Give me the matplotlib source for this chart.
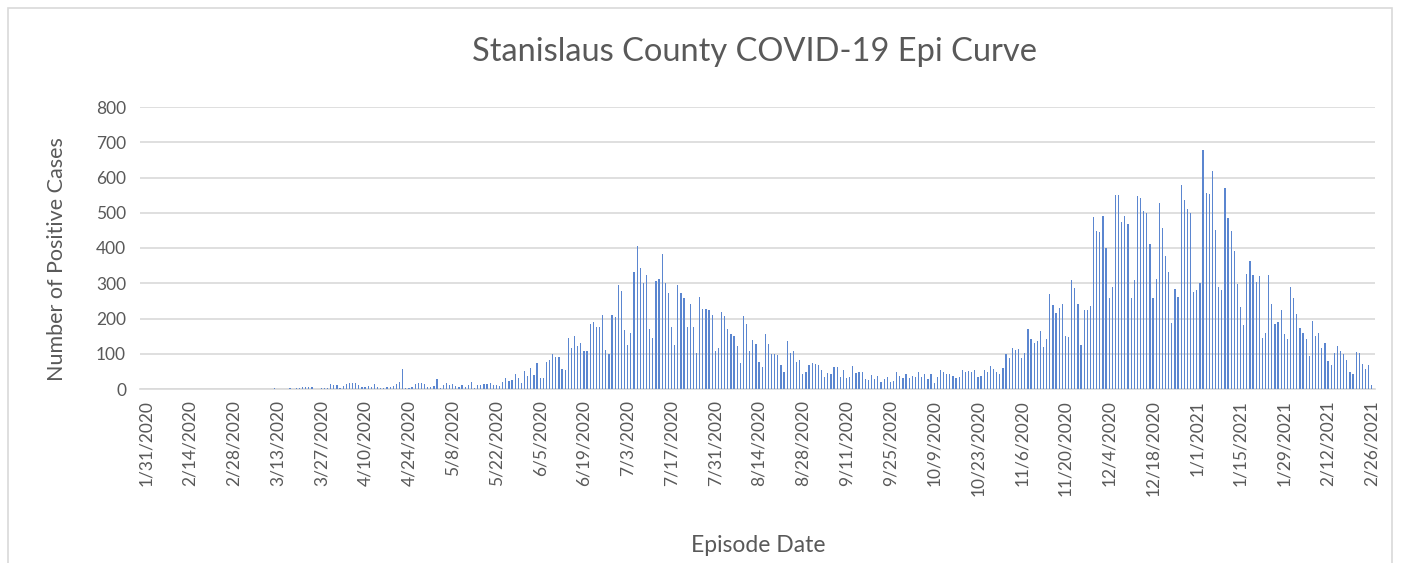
import matplotlib
matplotlib.use("Agg")
import matplotlib.pyplot as plt
from matplotlib.patches import Rectangle
import pandas as pd
import numpy as np

plt.rcParams['font.family'] = ['Lato', 'DejaVu Sans']

start_date = "2020-01-31"
end_date = "2021-02-26"

# Daily positive cases
cases_feb_mar = [0]*34 + [1, 0, 0, 0, 1, 0, 0, 2, 1, 0, 1, 0, 2, 0, 4, 3, 5, 5, 7, 5, 1, 1, 3, 3, 2,
                          13, 11, 10]
cases_apr_may = [3, 9, 15, 16, 18, 17, 11, 7, 6, 8, 5, 13, 6, 3, 2, 6, 6, 8, 14, 20, 58, 4, 2, 6, 14,
                 16, 16, 13, 7, 6, 8, 28, 4, 10, 16, 10, 14, 8, 7, 10, 7, 10, 19, 4, 10, 11, 13, 14, 17,
                 12, 10, 9, 21, 30, 22, 25, 42, 30, 18, 52, 37]
cases_jun_jul = [59, 39, 75, 32, 32, 78, 81, 100, 90, 90, 58, 55, 145, 116, 151, 121, 131, 109, 109,
                 185, 189, 175, 175, 211, 111, 98, 209, 204, 296, 279, 168, 124, 159, 332, 406, 343,
                 302, 322, 169, 145, 305, 311, 383, 300, 273, 175, 125, 296, 271, 257, 175, 242, 176,
                 103, 262, 227, 227, 223, 210, 108, 117]
cases_aug_sep = [219, 208, 171, 157, 149, 121, 75, 208, 185, 107, 138, 128, 78, 63, 155, 128, 98, 100,
                 96, 67, 47, 135, 101, 109, 78, 81, 43, 49, 69, 73, 72, 68, 53, 33, 46, 42, 61, 61, 35,
                 53, 32, 33, 66, 44, 47, 47, 29, 25, 39, 27, 37, 21, 29, 35, 19, 24, 49, 38, 30, 42, 30]
cases_oct_nov = [38, 33, 49, 33, 43, 29, 42, 18, 33, 53, 47, 42, 43, 38, 32, 35, 55, 48, 50, 47, 55,
                 34, 38, 55, 47, 64, 57, 47, 43, 60, 98, 89, 117, 112, 113, 87, 103, 169, 141, 131,
                 137, 164, 119, 141, 269, 239, 217, 230, 242, 151, 147, 310, 286, 242, 125, 225, 224,
                 235, 489, 447, 444]
cases_dec_jan = [492, 399, 258, 289, 549, 549, 475, 492, 467, 259, 308, 547, 542, 504, 498, 412, 258,
                 311, 528, 458, 376, 333, 188, 283, 262, 578, 537, 511, 499, 275, 281, 301, 678, 556,
                 554, 618, 450, 288, 282, 570, 486, 447, 391, 297, 234, 181, 325, 364, 322, 303, 320,
                 146, 158, 322, 242, 185, 191, 225, 157, 142, 288]
cases_feb21 = [258, 214, 172, 158, 141, 93, 192, 150, 159, 116, 131, 79, 67, 103, 123, 109, 99, 81,
               48, 42, 104, 101, 71, 57, 69, 11]

cases = (cases_feb_mar + cases_apr_may + cases_jun_jul + cases_aug_sep +
         cases_oct_nov + cases_dec_jan + cases_feb21)
dates = pd.date_range(start_date, end_date, freq="D")
n = len(dates)
cases = (cases + [0]*n)[:n]
x = np.arange(n)

tick_idx = list(range(0, n, 14))
tick_labels = [f"{d.month}/{d.day}/{d.year}" for d in dates[tick_idx]]

W, H = 1401, 563
fig = plt.figure(figsize=(W/100, H/100), dpi=100)
ax = fig.add_axes([140/W, 1-389/H, (1375-140)/W, (389-107)/H])

ax.bar(x, cases, width=0.4, color="#5B86D0", linewidth=0, zorder=3)
ax.set_xlim(-2, n)
ax.set_ylim(0, 800)
ax.set_yticks(range(0, 801, 100))
ax.yaxis.grid(True, color="#D9D9D9", linewidth=1.2, zorder=0)
ax.set_axisbelow(True)
for s in ["top", "right", "left"]:
    ax.spines[s].set_visible(False)
ax.spines["bottom"].set_color("#D9D9D9")
ax.spines["bottom"].set_linewidth(1.2)
ax.set_xticks(tick_idx)
ax.set_xticklabels(tick_labels, rotation=90)
ax.tick_params(axis="both", length=0, colors="#595959", labelsize=12.5)
ax.tick_params(axis="x", pad=8)
ax.tick_params(axis="y", pad=10)

fig.text(57/W, 1-259/H, "Number of Positive Cases", rotation=90, ha="center", va="center",
         fontsize=15.5, color="#595959")
fig.text(758/W, 1-546/H, "Episode Date", ha="center", va="center", fontsize=16.5, color="#595959")
fig.text(755/W, 1-52/H, "Stanislaus County COVID-19 Epi Curve", ha="center", va="center",
         fontsize=23.5, color="#595959")

fig.patches.append(Rectangle((8/W, -0.05), (1392-8)/W, 1-8/H+0.05, transform=fig.transFigure,
                             fill=False, edgecolor="#D9D9D9", linewidth=1.2))

fig.savefig("out.png", dpi=100)
